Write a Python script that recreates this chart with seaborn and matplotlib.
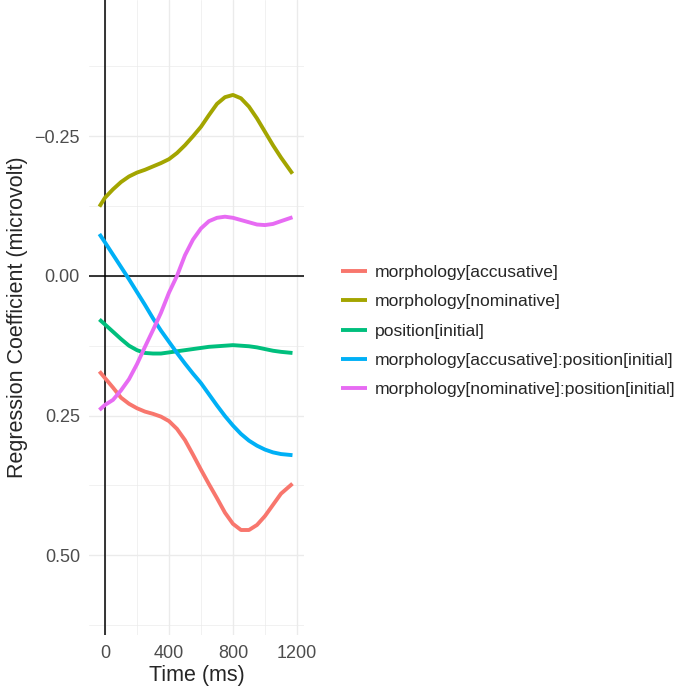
import numpy as np
import pandas as pd
import matplotlib.pyplot as plt
import seaborn as sns
from matplotlib.ticker import MultipleLocator

sns.set_style("white")
plt.rcParams['font.family'] = ['Liberation Sans', 'DejaVu Sans']

# Time points (ms)
time_ms = [-35, 0, 50, 100, 150, 200, 250, 300, 350, 400, 450, 500, 550,
           600, 650, 700, 750, 800, 850, 900, 950, 1000, 1050, 1100, 1172]

# Coefficient estimates per term (microvolt)
acc = [0.171, 0.183, 0.200, 0.218, 0.229, 0.237, 0.243, 0.247, 0.252, 0.260, 0.274, 0.294, 0.320,
       0.347, 0.373, 0.398, 0.424, 0.444, 0.455, 0.455, 0.446, 0.430, 0.410, 0.390, 0.372]
nom = [-0.124, -0.140, -0.155, -0.168, -0.178, -0.185, -0.190, -0.196, -0.202, -0.209, -0.220, -0.234, -0.250,
       -0.267, -0.288, -0.308, -0.320, -0.324, -0.318, -0.303, -0.282, -0.258, -0.234, -0.212, -0.183]
pos = [0.078, 0.087, 0.100, 0.113, 0.125, 0.133, 0.138, 0.139, 0.139, 0.137, 0.135, 0.133, 0.131,
       0.129, 0.127, 0.126, 0.125, 0.124, 0.125, 0.126, 0.128, 0.131, 0.134, 0.136, 0.138]
acc_pos = [-0.075, -0.060, -0.038, -0.016, 0.006, 0.029, 0.052, 0.076, 0.098, 0.118, 0.138, 0.157, 0.175,
           0.192, 0.212, 0.232, 0.251, 0.268, 0.283, 0.295, 0.304, 0.311, 0.316, 0.319, 0.321]
nom_pos = [0.240, 0.231, 0.222, 0.205, 0.185, 0.158, 0.127, 0.097, 0.066, 0.030, 0.000, -0.037, -0.065,
           -0.085, -0.098, -0.104, -0.106, -0.104, -0.100, -0.096, -0.092, -0.091, -0.093, -0.098, -0.105]

terms = ['morphology[accusative]', 'morphology[nominative]', 'position[initial]',
         'morphology[accusative]:position[initial]', 'morphology[nominative]:position[initial]']
colors = ['#F8766D', '#A3A500', '#00BF7D', '#00B0F6', '#E76BF3']

df = pd.DataFrame({
    'time': time_ms * 5,
    'coef': acc + nom + pos + acc_pos + nom_pos,
    'term': [t for t in terms for _ in time_ms],
})

fig = plt.figure(figsize=(6.81, 6.89), dpi=100)
ax = fig.add_axes([89 / 681, 1 - 635 / 689, 215 / 681, 635 / 689])

# ggplot-like minimal grid
ax.set_xlim(-100, 1244)
ax.set_ylim(0.643, -0.494)
ax.xaxis.set_major_locator(MultipleLocator(400))
ax.xaxis.set_minor_locator(MultipleLocator(200))
ax.yaxis.set_major_locator(MultipleLocator(0.25))
ax.yaxis.set_minor_locator(MultipleLocator(0.125))
ax.grid(which='major', color='#EBEBEB', linewidth=1.0)
ax.grid(which='minor', color='#EBEBEB', linewidth=0.5)
ax.set_axisbelow(True)
for s in ax.spines.values():
    s.set_visible(False)

ax.axhline(0, color='black', linewidth=1.1, zorder=1)
ax.axvline(0, color='black', linewidth=1.1, zorder=1)

sns.lineplot(data=df, x='time', y='coef', hue='term', hue_order=terms,
             palette=colors, linewidth=2.8, ax=ax, legend=False, zorder=3,
             solid_capstyle='butt', solid_joinstyle='round')

ax.set_xticks([0, 400, 800, 1200])
ax.set_xticklabels(['0', '400', '800', '1200'])
ax.set_yticks([-0.25, 0, 0.25, 0.5])
ax.set_yticklabels(['\u22120.25', '0.00', '0.25', '0.50'])
ax.tick_params(axis='y', which='both', length=0, labelsize=13, labelcolor='#4D4D4D', pad=6.5)
ax.tick_params(axis='x', which='both', length=0, labelsize=13, labelcolor='#4D4D4D', pad=7)

ax.set_xlabel('Time (ms)', fontsize=15.5, labelpad=2)
ax.set_ylabel('Regression Coefficient (microvolt)', fontsize=15.5, labelpad=5)

handles = [plt.Line2D([], [], color=c, linewidth=2.8, solid_capstyle='butt') for c in colors]
fig.legend(handles, terms, loc='center left', bbox_to_anchor=(341 / 681, 1 - 331 / 689),
           frameon=False, fontsize=12.6, handlelength=1.5, handletextpad=0.45,
           labelspacing=0.8, borderpad=0, borderaxespad=0)

fig.savefig('out.png', dpi=100)
